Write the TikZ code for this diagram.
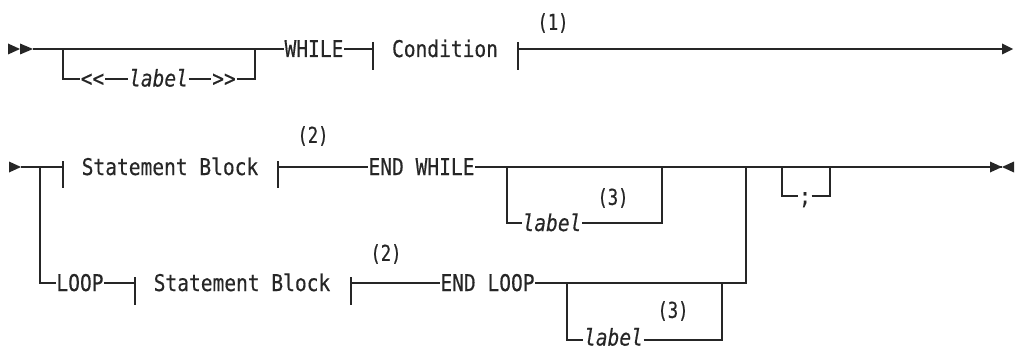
\documentclass[tikz,border=0pt]{standalone}
\usepackage{fontspec}
\newfontfamily\rrfont[FakeStretch=0.85,FakeBold=0.4,Ligatures=TeXOff]{DejaVu Sans Mono}
\newfontfamily\ntfont[FakeStretch=0.78,FakeBold=0.4,Ligatures=TeXOff]{DejaVu Sans Mono}
\begin{document}
\begin{tikzpicture}[x=1pt,y=-1pt]
\tikzset{
 rail/.style={line width=1.2pt, draw=black!85},
 kw/.style={font=\rrfont\fontsize{23}{25}\selectfont, inner sep=0.8pt, outer sep=0pt, anchor=base, text=black!85},
 var/.style={kw, font=\rrfont\itshape\fontsize{23}{25}\selectfont},
 note/.style={font=\ntfont\fontsize{22}{23}\selectfont, inner sep=0pt, text=black!85},
 tipfill/.style={fill=black!85},
}
\useasboundingbox (0,0) rectangle (1016,350);

% ---------- Row 1 ----------
\fill[tipfill] (8,43.5) -- (20,49) -- (8,54.5) -- cycle;
\fill[tipfill] (20,43.5) -- (33,49) -- (20,54.5) -- cycle;
\coordinate (s1) at (33,49);
\coordinate (j1a) at (63,49);
\coordinate (j1aB) at (63,79);
\coordinate (j1b) at (255,49);
\coordinate (j1bB) at (255,79);
\coordinate (t1) at (373,49);
\coordinate (t2) at (518,49);
\coordinate (e1) at (1002,49);

\node[kw]  (lt)   at (92.5,86.5) {<<};
\node[var] (lab1) at (158.5,86.5) {label};
\node[kw]  (gt)   at (224,86.5) {>>};
\node[kw]  (while) at (314,57) {WHILE};
\node[kw]  (cond) at (445,57) {Condition};
\node[note] (n1)  at (553,23) {(1)};

\draw[rail] (s1) -- (while.west |- s1);
\draw[rail] (j1a) -- (j1aB) -- (lt.west |- j1aB);
\draw[rail] (lt.east |- j1aB) -- (lab1.west |- j1aB);
\draw[rail] (lab1.east |- j1aB) -- (gt.west |- j1aB);
\draw[rail] (gt.east |- j1bB) -- (j1bB) -- (j1b);
\draw[rail] (while.east |- t1) -- (t1);
\draw[rail] (373,42) -- (373,70);
\draw[rail] (518,42) -- (518,70);
\draw[rail] (t2) -- (e1);
\fill[tipfill] (1002,43.5) -- (1013,49) -- (1002,54.5) -- cycle;

% ---------- Row 2 ----------
\fill[tipfill] (9,161.5) -- (21,167) -- (9,172.5) -- cycle;
\coordinate (s2) at (21,167);
\coordinate (br) at (40,167);
\coordinate (brB) at (40,283);
\coordinate (t3) at (63,167);
\coordinate (t4) at (278,167);
\coordinate (o1a) at (507,167);
\coordinate (o1aB) at (507,223);
\coordinate (o1b) at (662,167);
\coordinate (o1bB) at (662,223);
\coordinate (jn) at (746,167);
\coordinate (jnB) at (746,283);
\coordinate (sca) at (782,167);
\coordinate (scaB) at (782,196);
\coordinate (scb) at (830,167);
\coordinate (scbB) at (830,196);
\coordinate (e2) at (1002,167);

\node[kw]  (sb1)  at (170,175) {Statement Block};
\node[note] (n2a) at (313,136) {(2)};
\node[kw]  (endw) at (421.5,175) {END WHILE};
\node[var] (lab2) at (552,231) {label};
\node[note] (n3a) at (613,198) {(3)};
\node[kw]  (semi) at (805,204) {;};

\draw[rail] (s2) -- (t3);
\draw[rail] (63,161) -- (63,188);
\draw[rail] (278,161) -- (278,188);
\draw[rail] (t4) -- (endw.west |- t4);
\draw[rail] (endw.east |- t4) -- (e2);
\draw[rail] (o1a) -- (o1aB) -- (lab2.west |- o1aB);
\draw[rail] (lab2.east |- o1bB) -- (o1bB) -- (o1b);
\draw[rail] (sca) -- (scaB) -- (semi.west |- scaB);
\draw[rail] (semi.east |- scbB) -- (scbB) -- (scb);
\draw[line width=2.4pt, draw=black!85] (835,167) -- (860,167);
\fill[tipfill] (990,161.5) -- (1002,167) -- (990,172.5) -- cycle;
\fill[tipfill] (1014,161.5) -- (1002,167) -- (1014,172.5) -- cycle;

% ---------- Row 3 ----------
\coordinate (t5) at (135,283);
\coordinate (t6) at (351,283);
\coordinate (o2a) at (567,283);
\coordinate (o2aB) at (567,340);
\coordinate (o2b) at (722,283);
\coordinate (o2bB) at (722,340);

\node[kw]  (loop) at (80,291) {LOOP};
\node[kw]  (sb2)  at (242,291) {Statement Block};
\node[note] (n2b) at (386,254) {(2)};
\node[kw]  (endl) at (487.5,291) {END LOOP};
\node[var] (lab3) at (613.5,345.5) {label};
\node[note] (n3b) at (673,311) {(3)};

\draw[rail] (br) -- (brB) -- (loop.west |- brB);
\draw[rail] (loop.east |- t5) -- (t5);
\draw[rail] (135,277) -- (135,305);
\draw[rail] (351,277) -- (351,305);
\draw[rail] (t6) -- (endl.west |- t6);
\draw[rail] (endl.east |- jnB) -- (jnB) -- (jn);
\draw[rail] (o2a) -- (o2aB) -- (lab3.west |- o2aB);
\draw[rail] (lab3.east |- o2bB) -- (o2bB) -- (o2b);
\end{tikzpicture}
\end{document}
